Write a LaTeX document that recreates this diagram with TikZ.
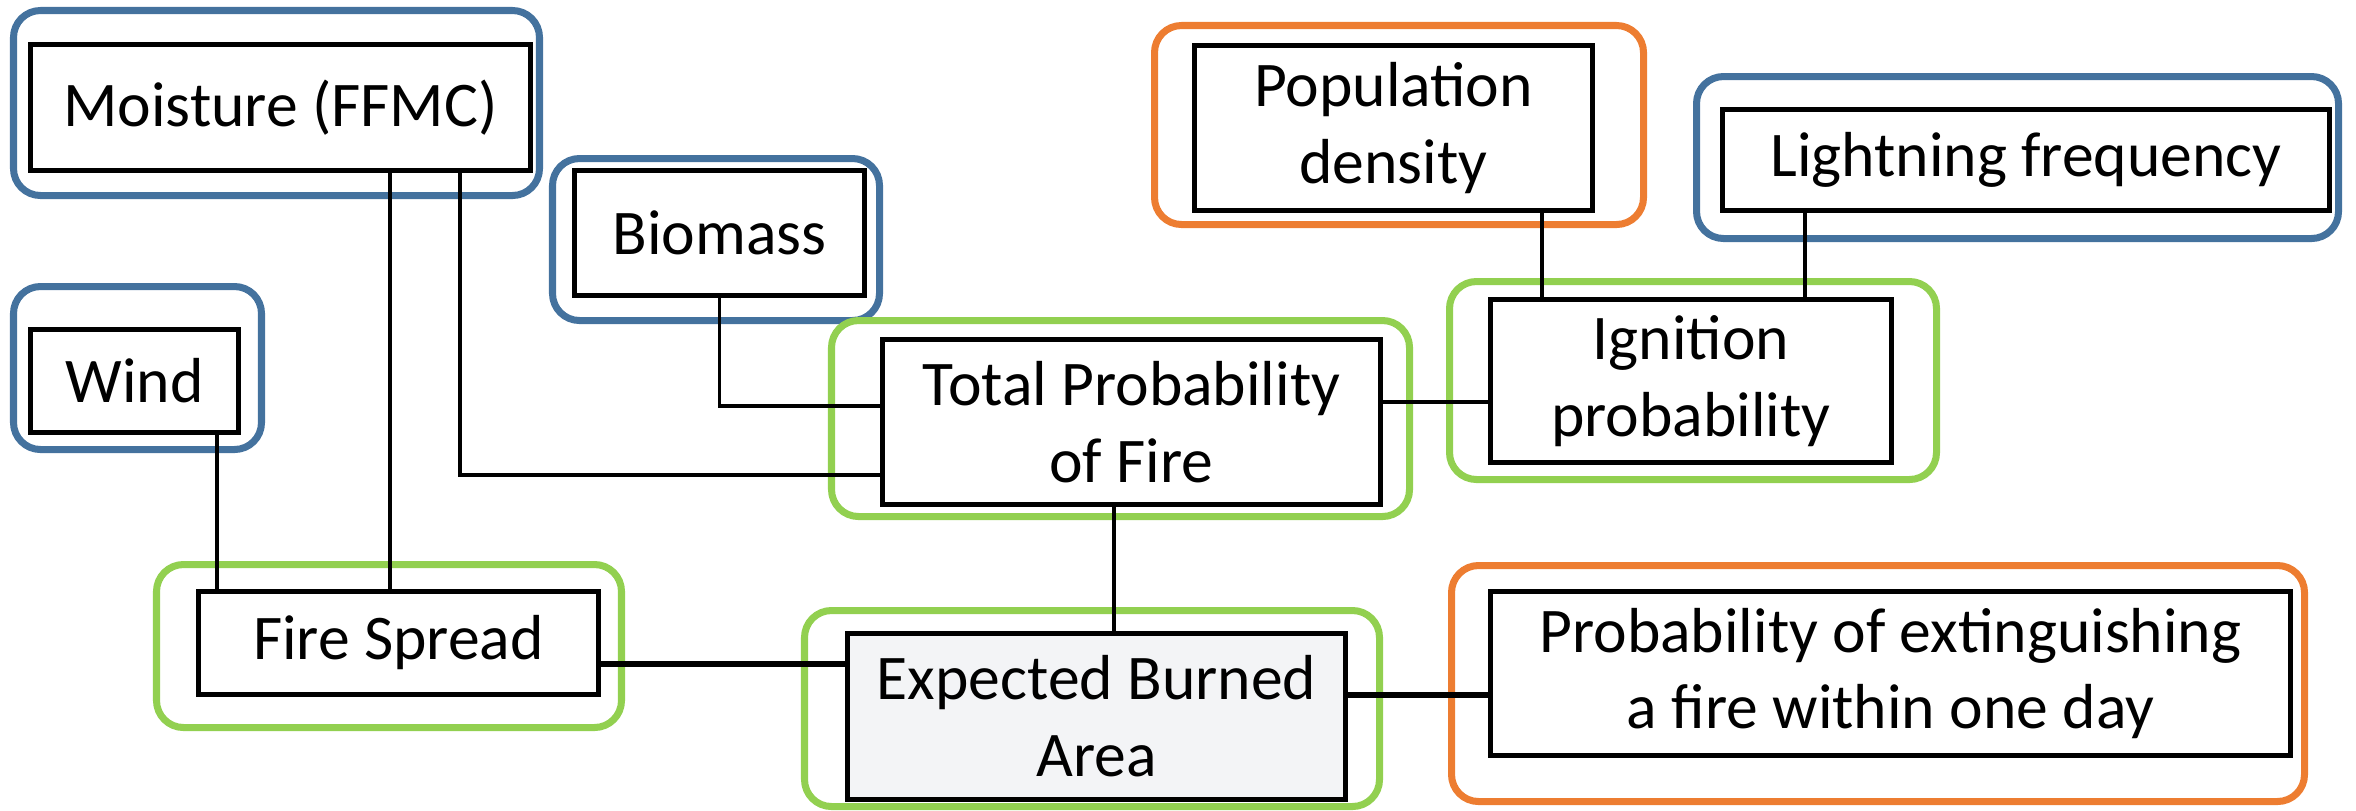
\documentclass[tikz,border=0pt]{standalone}
\usepackage{fontspec}
\setmainfont{Carlito}
\usepackage{xcolor}
\usepackage{tikz}
\usetikzlibrary{positioning,calc}

\definecolor{factorblue}{RGB}{68,114,158}
\definecolor{factororange}{RGB}{237,125,49}
\definecolor{factorgreen}{RGB}{146,208,80}
\definecolor{resultgray}{RGB}{243,244,246}

\begin{document}
\begin{tikzpicture}[
    font=\fontsize{18.1}{21.9}\selectfont,
    box/.style={rectangle, draw, line width=1.4pt, fill=white, align=center, inner sep=0pt},
    frame/.style={rectangle, draw, rounded corners=0.27cm, line width=2pt, inner sep=0pt},
    link/.style={line width=1pt},
    heavy/.style={line width=1.7pt}
  ]
    \useasboundingbox (0,0) rectangle (23.56,-8.10);

    % Coloured frames (blue: natural, orange: human, green: model)
    \node[frame, draw=factorblue, minimum width=5.26cm, minimum height=1.85cm] (moistureG) at (2.765,-1.03) {};
    \node[frame, draw=factorblue, minimum width=2.48cm, minimum height=1.63cm] (windG) at (1.375,-3.68) {};
    \node[frame, draw=factorblue, minimum width=3.27cm, minimum height=1.62cm] (biomassG) at (7.16,-2.395) {};
    \node[frame, draw=factororange, minimum width=4.89cm, minimum height=1.99cm] (popG) at (13.99,-1.25) {};
    \node[frame, draw=factorblue, minimum width=6.42cm, minimum height=1.62cm] (lightG) at (20.175,-1.575) {};
    \node[frame, draw=factorgreen, minimum width=5.78cm, minimum height=1.96cm] (tpfG) at (11.205,-4.185) {};
    \node[frame, draw=factorgreen, minimum width=4.87cm, minimum height=1.98cm] (ignG) at (16.93,-3.805) {};
    \node[frame, draw=factorgreen, minimum width=4.65cm, minimum height=1.63cm] (fsG) at (3.89,-6.46) {};
    \node[frame, draw=factorgreen, minimum width=5.75cm, minimum height=1.96cm] (ebaG) at (10.92,-7.085) {};
    \node[frame, draw=factororange, minimum width=8.53cm, minimum height=2.36cm] (pextG) at (18.78,-6.835) {};

    % Boxes
    \node[box, minimum width=5.00cm, minimum height=1.26cm] (moisture) at (2.805,-1.075) {Moisture (FFMC)};
    \node[box, minimum width=2.08cm, minimum height=1.03cm] (wind) at (1.345,-3.81) {Wind};
    \node[box, minimum width=2.90cm, minimum height=1.25cm] (biomass) at (7.195,-2.33) {Biomass};
    \node[box, minimum width=3.98cm, minimum height=1.65cm] (pop) at (13.935,-1.28) {Population\\density};
    \node[box, minimum width=6.07cm, minimum height=1.01cm] (light) at (20.26,-1.60) {Lightning frequency};
    \node[box, minimum width=4.98cm, minimum height=1.65cm] (tpf) at (11.315,-4.22) {Total Probability\\of Fire};
    \node[box, minimum width=4.01cm, minimum height=1.63cm] (ign) at (16.91,-3.81) {Ignition\\probability};
    \node[box, minimum width=4.00cm, minimum height=1.03cm] (fs) at (3.985,-6.43) {Fire Spread};
    \node[box, fill=resultgray, minimum width=4.98cm, minimum height=1.66cm] (eba) at (10.965,-7.165) {Expected Burned\\Area};
    \node[box, minimum width=8.00cm, minimum height=1.64cm] (pext) at (18.905,-6.735) {Probability of extinguishing\\a fire within one day};

    % Links into fire spread
    \draw[link] ([xshift=-0.24cm]wind.south east) -- ([xshift=-0.24cm]wind.south east |- fs.north);
    \draw[link] ([xshift=-1.43cm]moisture.south east) -- ([xshift=-1.43cm]moisture.south east |- fs.north);

    % Links into total probability
    \draw[link] ([xshift=-0.73cm]moisture.south east) |- ([yshift=-0.53cm]tpf.west);
    \draw[link] (biomass.south) |- ([yshift=0.16cm]tpf.west);
    \draw[line width=1.3pt] ([yshift=0.2cm]tpf.east) -- ([yshift=0.2cm]tpf.east -| ign.west);

    % Links into ignition
    \draw[link] ([xshift=0.54cm]ign.north west |- pop.south) -- ([xshift=0.54cm]ign.north west);
    \draw[link] ([xshift=0.85cm]light.south west) -- ([xshift=0.85cm]light.south west |- ign.north);

    % Links into expected burned area
    \draw[link] ([xshift=-0.175cm]tpf.south) -- ([xshift=-0.175cm]tpf.south |- eba.north);
    \draw[heavy] ([yshift=-0.21cm]fs.east) -- ([yshift=-0.21cm]fs.east -| eba.west);
    \draw[line width=1.5pt] ([yshift=0.215cm]eba.east) -- ([yshift=0.215cm]eba.east -| pext.west);

  \end{tikzpicture}
\end{document}
